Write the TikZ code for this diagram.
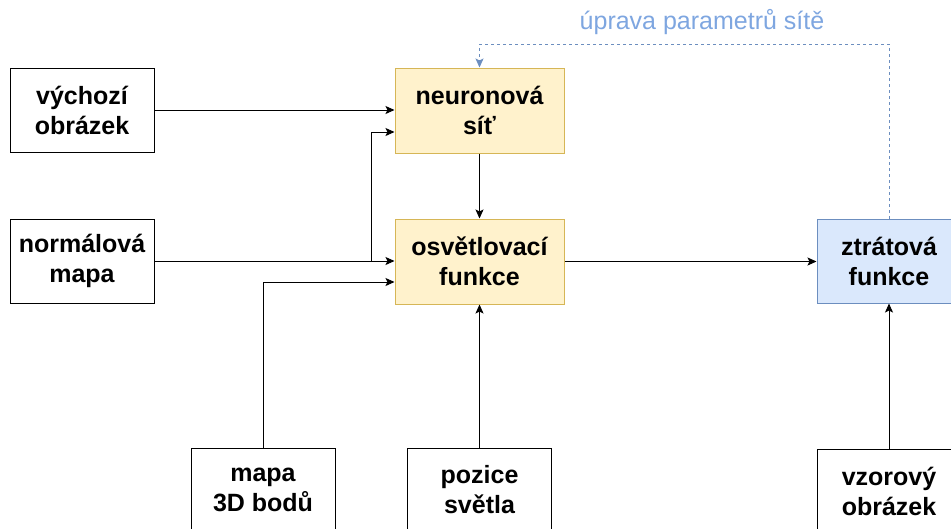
\documentclass[tikz,border=0pt]{standalone}
\usepackage{fontspec}
\setmainfont{Liberation Sans}
\usetikzlibrary{arrows.meta}
\definecolor{yfill}{HTML}{FFF2CC}
\definecolor{ydraw}{HTML}{D6B656}
\definecolor{bfill}{HTML}{DAE8FC}
\definecolor{bdraw}{HTML}{6C8EBF}
\definecolor{lblue}{HTML}{7EA6E0}
\tikzset{
  box/.style={draw=black, line width=1pt, rectangle, inner sep=0pt, align=center,
    font=\fontsize{25}{30}\selectfont\bfseries, text=black},
  plainbox/.style={box, fill=white, minimum width=144pt, minimum height=84pt},
  yellowbox/.style={box, fill=yfill, draw=ydraw, minimum width=169pt, minimum height=85pt},
  bluebox/.style={box, fill=bfill, draw=bdraw, minimum width=144pt, minimum height=84pt},
  arr/.style={line width=1pt, draw=black, -{Stealth[length=9pt,width=8pt,inset=2pt]}},
  fbarr/.style={line width=1pt, draw=bdraw, dash pattern=on 3pt off 3pt,
    -{Stealth[length=9pt,width=8pt,inset=2pt]}},
}
\begin{document}
\begin{tikzpicture}[x=1pt,y=-1pt]
\useasboundingbox (0,0) rectangle (951,528);
\node[plainbox] (vych) at (82,110) {výchozí\\obrázek};
\node[plainbox] (norm) at (82,261) {normálová\\mapa};
\node[yellowbox] (neur) at (479.5,110.5) {neuronová\\síť};
\node[yellowbox] (osvet) at (479.5,261.5) {osvětlovací\\funkce};
\node[bluebox] (ztrat) at (889,261) {ztrátová\\funkce};
\node[plainbox] (mapa) at (263,490) {mapa\\3D bodů};
\node[plainbox] (pozice) at (479.5,490) {pozice\\světla};
\node[plainbox] (vzor) at (889,491) {vzorový\\obrázek};
\node[text=lblue, font=\fontsize{25}{30}\selectfont, inner sep=0pt] (lbl) at (702,22) {úprava parametrů sítě};
\coordinate (j1) at (371,261);
\coordinate (top) at (700,44);

\draw[arr] (vych.east) -- (vych.east -| neur.west);
\draw[arr] (norm.east) -- (norm.east -| osvet.west);
\draw[arr] (j1) |- ([yshift=-21.5pt]neur.west);
\draw[arr] (mapa.north) |- ([yshift=-20.5pt]osvet.west);
\draw[arr] (pozice.north) -- (osvet.south);
\draw[arr] (neur.south) -- (osvet.north);
\draw[arr] (osvet.east) -- (osvet.east -| ztrat.west);
\draw[arr] (vzor.north) -- (ztrat.south);
\draw[fbarr] (ztrat.north) |- (top) -| (neur.north);
\end{tikzpicture}
\end{document}
